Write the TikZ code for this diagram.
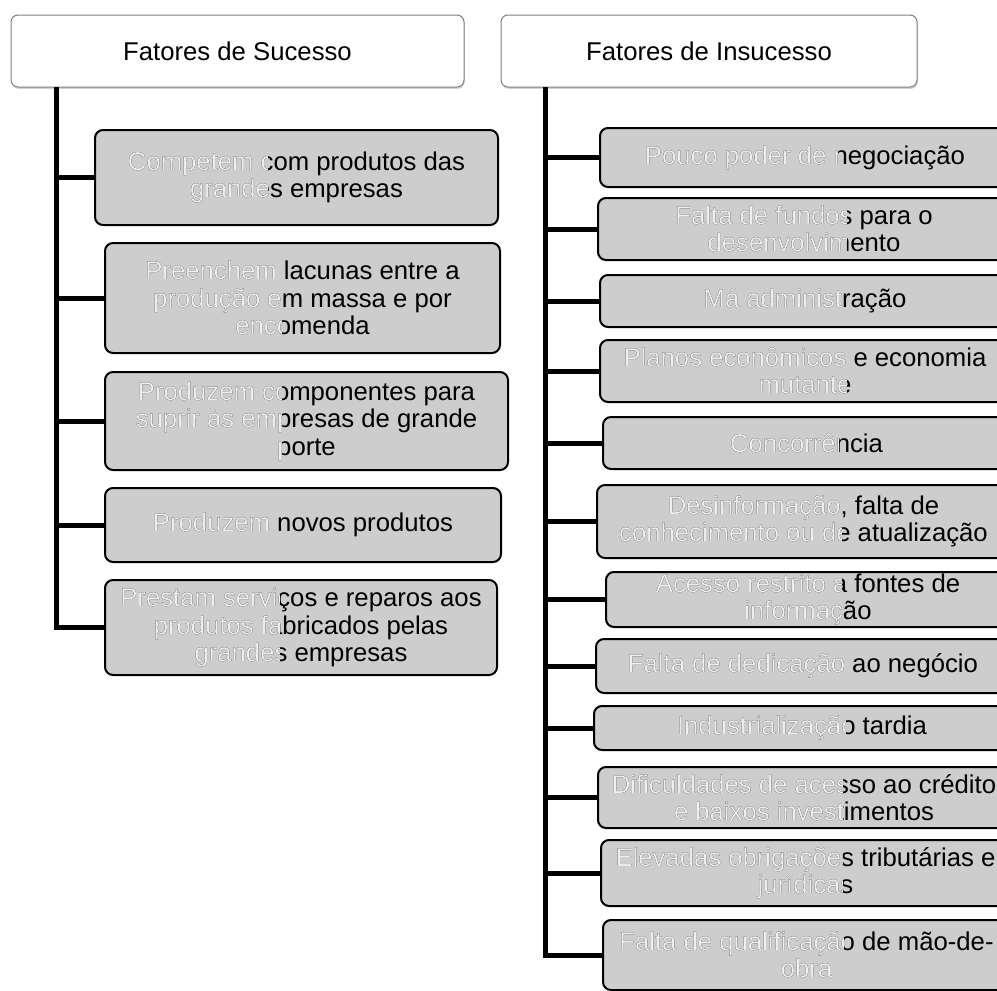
\documentclass[tikz,border=0pt]{standalone}
\usepackage{fontspec}
\setmainfont{Liberation Sans}
\usetikzlibrary{shadows}
\definecolor{boxgray}{RGB}{205,205,205}
\definecolor{ghost}{RGB}{238,238,238}
\tikzset{
  txt/.style={font=\fontsize{25.7}{27.4}\selectfont, align=center, inner sep=0pt},
  hdr/.style={txt, draw=black!50, line width=1pt, fill=white, rounded corners=7pt,
    drop shadow={shadow xshift=0.8pt, shadow yshift=-1.8pt, opacity=0.35}},
  itm/.style={txt, draw=black, line width=2pt, fill=boxgray, rounded corners=8pt},
  ovtext/.style={txt, text=ghost},
  trunk/.style={line width=5pt, line join=miter},
}
\newcommand{\ovl}[3]{\begin{scope}\clip (0,0) rectangle (#2,1000);\node[ovtext] (#1w) at (#1.center) {#3};\end{scope}}
\begin{document}
\begin{tikzpicture}[x=1pt,y=-1pt]
\useasboundingbox (0,0) rectangle (997,991);
\clip (0,0) rectangle (997,991);
\fill[white] (0,0) rectangle (997,991);

% headers
\node[hdr, minimum width=453pt, minimum height=72pt] (hs) at (237.5,51) {Fatores de Sucesso};
\node[hdr, minimum width=416pt, minimum height=72pt] (hi) at (709,51) {Fatores de Insucesso};

% left items
\node[itm, minimum width=403pt, minimum height=95pt] (s1) at (296.5,177.5) {Competem com produtos das\\grandes empresas};
\node[itm, minimum width=395pt, minimum height=110pt] (s2) at (302.5,298) {Preenchem lacunas entre a\\produção em massa e por\\encomenda};
\node[itm, minimum width=403pt, minimum height=98pt] (s3) at (306.5,421) {Produzem  componentes para\\suprir às empresas de grande\\porte};
\node[itm, minimum width=396pt, minimum height=74pt] (s4) at (303,525) {Produzem novos produtos};
\node[itm, minimum width=392pt, minimum height=95pt] (s5) at (301,627.5) {Prestam serviços e reparos aos\\produtos fabricados pelas\\grandes empresas};

\ovl{s1}{267}{Competem com produtos das\\grandes empresas}
\ovl{s2}{281}{Preenchem lacunas entre a\\produção em massa e por\\encomenda}
\ovl{s3}{281}{Produzem  componentes para\\suprir às empresas de grande\\porte}
\ovl{s4}{270}{Produzem novos produtos}
\ovl{s5}{279}{Prestam serviços e reparos aos\\produtos fabricados pelas\\grandes empresas}

% right items
\node[itm, minimum width=410pt, minimum height=59pt] (r1) at (805,157.5) {Pouco poder de negociação};
\node[itm, minimum width=412pt, minimum height=62pt] (r2) at (804,229) {Falta de fundos para o\\desenvolvimento};
\node[itm, minimum width=410pt, minimum height=52pt] (r3) at (805,301) {Má administração};
\node[itm, minimum width=410pt, minimum height=62pt] (r4) at (805,371) {Planos econômicos e economia\\mutante};
\node[itm, minimum width=407pt, minimum height=52pt] (r5) at (806.5,443) {Concorrência};
\node[itm, minimum width=413pt, minimum height=73pt] (r6) at (803.5,521.5) {Desinformação, falta de\\conhecimento ou de atualização};
\node[itm, minimum width=404pt, minimum height=55pt] (r7) at (808,599.5) {Acesso restrito a fontes de\\informação};
\node[itm, minimum width=414pt, minimum height=54pt] (r8) at (803,666) {Falta de dedicação ao negócio};
\node[itm, minimum width=416pt, minimum height=44pt] (r9) at (802,728) {Industrialização tardia};
\node[itm, minimum width=412pt, minimum height=61pt] (r10) at (804,797.5) {Dificuldades de acesso ao crédito\\e baixos investimentos};
\node[itm, minimum width=409pt, minimum height=66pt] (r11) at (805.5,873) {Elevadas obrigações tributárias e\\jurídicas};
\node[itm, minimum width=407pt, minimum height=70pt] (r12) at (806.5,955) {Falta de qualificação de mão-de-\\obra};

\ovl{r1}{837}{Pouco poder de negociação}
\ovl{r2}{846}{Falta de fundos para o\\desenvolvimento}
\ovl{r3}{842}{Má administração}
\ovl{r4}{846}{Planos econômicos e economia\\mutante}
\ovl{r5}{838}{Concorrência}
\ovl{r6}{841}{Desinformação, falta de\\conhecimento ou de atualização}
\ovl{r7}{841}{Acesso restrito a fontes de\\informação}
\ovl{r8}{845}{Falta de dedicação ao negócio}
\ovl{r9}{845}{Industrialização tardia}
\ovl{r10}{842}{Dificuldades de acesso ao crédito\\e baixos investimentos}
\ovl{r11}{842}{Elevadas obrigações tributárias e\\jurídicas}
\ovl{r12}{843}{Falta de qualificação de mão-de-\\obra}

% connectors
\coordinate (lt) at (56,87);
\coordinate (rt) at (545,87);
\draw[trunk] (lt) |- (s5.west);
\foreach \n in {s1,s2,s3,s4}{\draw[trunk] (\n.west -| lt) -- (\n.west);}
\draw[trunk] (rt) |- (r12.west);
\foreach \n in {r1,r2,r3,r4,r5,r6,r7,r8,r9,r10,r11}{\draw[trunk] (\n.west -| rt) -- (\n.west);}
\end{tikzpicture}
\end{document}
